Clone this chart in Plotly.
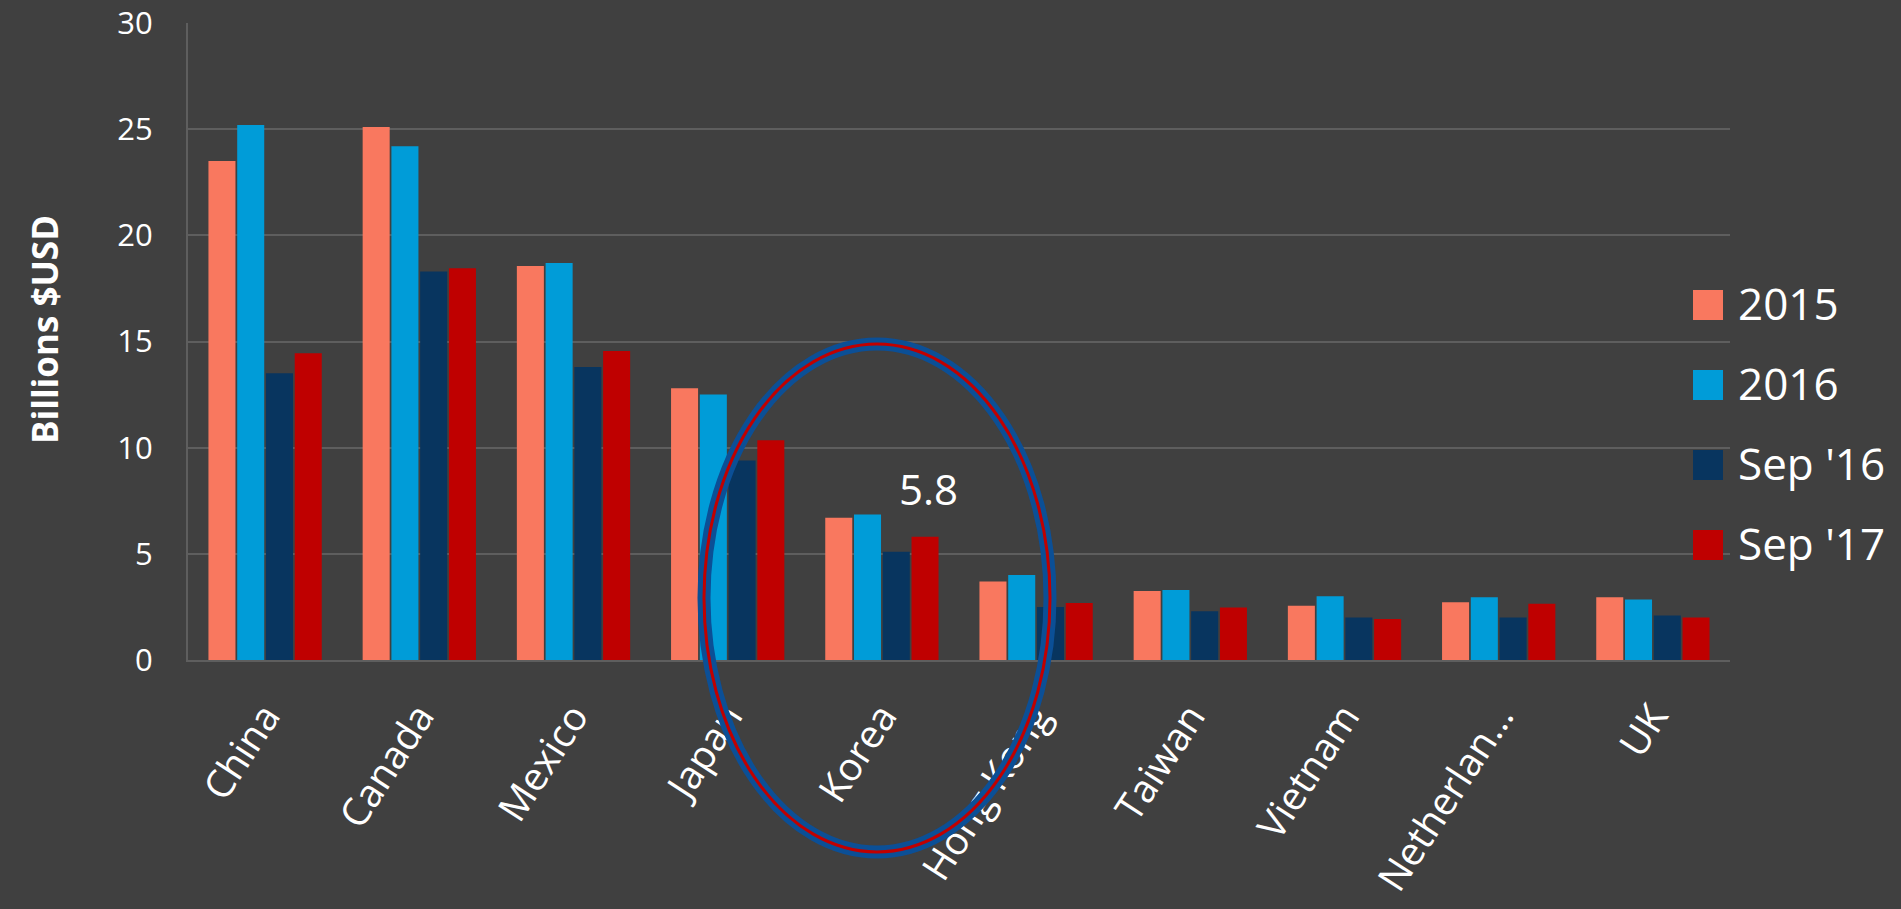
import plotly.graph_objects as go

# categories and series (billions USD)
countries = ["China", "Canada", "Mexico", "Japan", "Korea", "Hong Kong",
             "Taiwan", "Vietnam", "Netherlan…", "UK"]
series_names = ["2015", "2016", "Sep '16", "Sep '17"]
vals_2015 = [23.5, 25.1, 18.55, 12.8, 6.7, 3.7, 3.25, 2.55, 2.72, 2.95]
vals_2016 = [25.2, 24.2, 18.7, 12.5, 6.85, 4.0, 3.3, 3.0, 2.95, 2.85]
vals_sep16 = [13.5, 18.3, 13.8, 9.4, 5.1, 2.5, 2.3, 2.0, 2.0, 2.1]
vals_sep17 = [14.45, 18.45, 14.55, 10.35, 5.8, 2.68, 2.47, 1.93, 2.65, 2.0]
y_ticks = [0, 5, 10, 15, 20, 25, 30]

colors = ["#F9785F", "#009CD8", "#08355F", "#BF0000"]
bg = "#404040"
font = "Open Sans"

all_vals = [vals_2015, vals_2016, vals_sep16, vals_sep17]

fig = go.Figure()
for name, vals, col in zip(series_names, all_vals, colors):
    fig.add_trace(go.Bar(x=countries, y=vals, name=name,
                         marker=dict(color=col, line=dict(width=0)),
                         showlegend=False))

# plot area in pixels: left 188, right 1730, top 23, bottom 660
L, R, T, B = 188, 1730, 23, 660


def px_x(x):
    return (x - L) / (R - L)


def px_y(y):
    return (B - y) / (B - T)


shapes = []
annotations = []

# legend drawn by hand so the swatches can be large
for i, (name, col) in enumerate(zip(series_names, colors)):
    cy = 305 + 80 * i
    shapes.append(dict(type="rect", xref="paper", yref="paper",
                       x0=px_x(1693), x1=px_x(1723),
                       y0=px_y(cy + 15), y1=px_y(cy - 15),
                       fillcolor=col, line=dict(width=0)))
    annotations.append(dict(text=name, xref="paper", yref="paper",
                            x=px_x(1736), y=px_y(cy - 2),
                            xanchor="left", yanchor="middle", showarrow=False,
                            font=dict(family=font, size=44, color="white")))

# highlight ellipse round Korea (blue outer stroke, red inner stroke)
ell = dict(x0=px_x(704), x1=px_x(1050), y0=px_y(852), y1=px_y(344))
shapes.append(dict(type="circle", xref="paper", yref="paper", **ell,
                   line=dict(color="#0B4F96", width=13)))
shapes.append(dict(type="circle", xref="paper", yref="paper", **ell,
                   line=dict(color="#C00000", width=3)))

# value callout for Korea Sep '17
k = countries.index("Korea")
annotations.append(dict(text=f"{vals_sep17[k]}", x=countries[k], y=vals_sep17[k],
                        xshift=47, yshift=48, showarrow=False,
                        xanchor="center", yanchor="middle",
                        font=dict(family=font, size=42, color="white")))

# y axis title
annotations.append(dict(text="<b>Billions $USD</b>", xref="paper", yref="paper",
                        x=px_x(44), y=px_y(330), textangle=-90, showarrow=False,
                        xanchor="center", yanchor="middle",
                        font=dict(family=font, size=35, color="white")))

fig.update_layout(
    width=1901, height=909,
    paper_bgcolor=bg, plot_bgcolor=bg,
    margin=dict(l=L, r=1901 - R, t=T, b=909 - B),
    barmode="group", bargap=0.254, bargroupgap=0.06,
    font=dict(family=font, color="white"),
    shapes=shapes, annotations=annotations,
    xaxis=dict(tickangle=-57, tickfont=dict(size=39, color="white"),
               showgrid=False, showline=True, linecolor="#5E5E5E", linewidth=2,
               ticks="", ticklabelstandoff=16, automargin=False),
    yaxis=dict(range=[0, 30], tickvals=y_ticks, showgrid=True,
               gridcolor="#5E5E5E", gridwidth=2, zeroline=False,
               showline=True, linecolor="#5E5E5E", linewidth=2,
               tickfont=dict(size=31, color="white"), ticks="",
               ticklabelstandoff=27, automargin=False),
)

fig.write_html("out.html", config={"displayModeBar": False},
               post_script="document.body.style.margin='0';"
                           "document.body.style.overflow='hidden';")
